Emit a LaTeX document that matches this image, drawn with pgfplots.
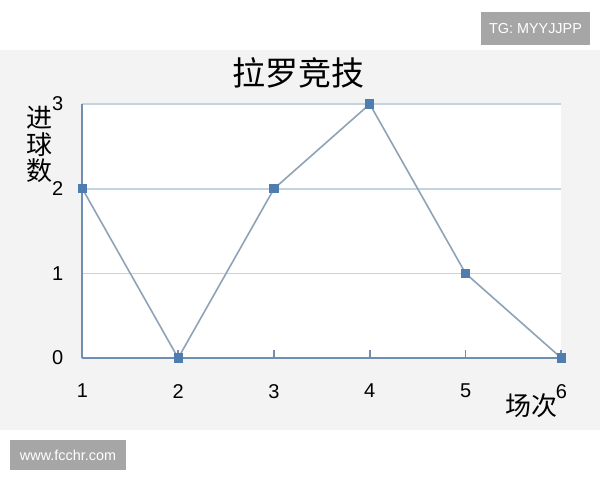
\documentclass[border=0pt]{standalone}
\usepackage{fontspec}
\setmainfont{Liberation Sans}
\newfontfamily\cjk{Noto Sans CJK SC}
\usepackage{pgfplots}
\pgfplotsset{compat=1.18}
\definecolor{panel}{HTML}{F3F3F3}
\definecolor{wm}{HTML}{A6A6A6}
\definecolor{axisc}{HTML}{6F8FB2}
\definecolor{gridc}{HTML}{C4D3E2}
\definecolor{linec}{HTML}{8FA3B7}
\definecolor{markc}{HTML}{4F7DB0}
\begin{document}
\begin{tikzpicture}[x=0.5pt,y=0.5pt]
% page and watermark boxes (1 unit = 1 px of the reference)
\fill[white] (0,0) rectangle (600,480);
\fill[panel] (0,50) rectangle (600,430);
\fill[wm] (481,435) rectangle (590,468);
\node[white,font=\fontsize{7.2}{8}\selectfont] at (535.5,451.5) {TG: MYYJJPP};
\fill[wm] (10,10) rectangle (126,40);
\node[white,font=\fontsize{7.2}{8}\selectfont] at (68,25) {www.fcchr.com};
\begin{axis}[
    at={(86,144)}, anchor=south west,
    scale only axis,
    width=239.5pt, height=127pt,
    xmin=1, xmax=6, ymin=0, ymax=3,
    clip=false,
    axis background/.style={fill=white},
    axis x line=bottom, axis y line=left,
    axis line style={-, draw=axisc, line width=1pt},
    ymajorgrids,
    grid style={draw=gridc, line width=0.9pt},
    xtick={1,2,3,4,5,6},
    xticklabels={1,2,3,4,5,\raisebox{2pt}{6}},
    ytick={0,1,2,3},
    tick align=inside,
    major tick length=4pt,
    xtick style={draw=axisc, line width=0.9pt},
    ytick style={draw=none},
    /pgf/number format/assume math mode=true,
    tick label style={font=\fontsize{10}{12}\selectfont, text=black},
    xticklabel style={yshift=-9.5pt},
    yticklabel style={xshift=-6pt},
    title={拉罗竞技},
    title style={at={(rel axis cs:0.451,1.075)}, anchor=center,
        font=\cjk\fontsize{16.5}{19}\selectfont},
    ylabel={进\\球\\数},
    ylabel style={rotate=-90, at={(rel axis cs:-0.09,0.84)}, anchor=center,
        align=center, font=\cjk\fontsize{13}{13.2}\selectfont},
    xlabel={场次},
    xlabel style={at={(rel axis cs:0.938,-0.189)}, anchor=center,
        font=\cjk\fontsize{13}{15}\selectfont},
]
\addplot[color=linec, line width=0.8pt, mark=square*, mark size=1.9pt,
    mark options={fill=markc, draw=markc}]
    coordinates {
    (1, 2)
    (2, 0)
    (3, 2)
    (4, 3)
    (5, 1)
    (6, 0)
    };
\end{axis}
\end{tikzpicture}
\end{document}
